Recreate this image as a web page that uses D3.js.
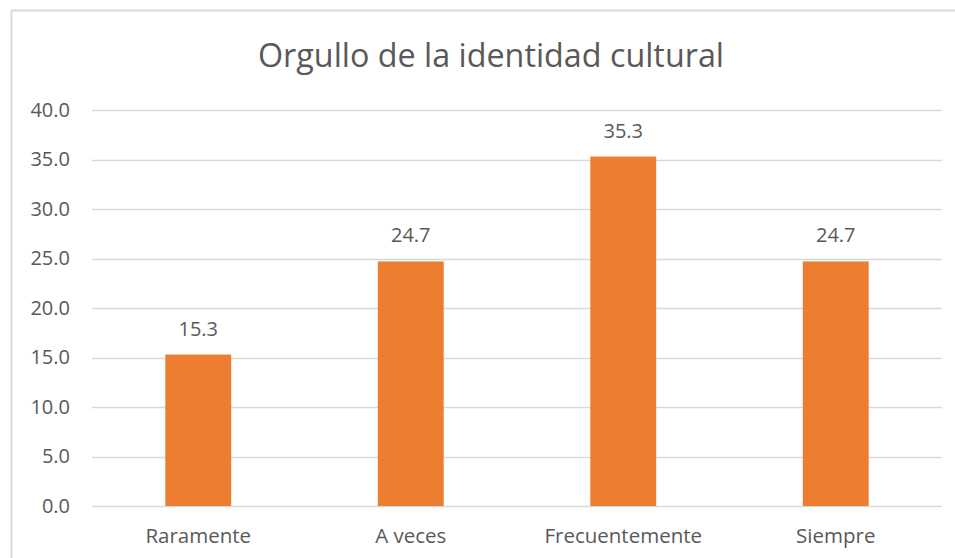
<!DOCTYPE html>
<html>
<head>
<meta charset="utf-8">
<script src="https://cdn.jsdelivr.net/npm/d3@7"></script>
<style>
  body { margin: 0; background: #fff; }
  text { font-family: "Open Sans", sans-serif; fill: #595959; }
</style>
</head>
<body>
<svg id="chart" width="955" height="558"></svg>
<script>
var categories = ['Raramente', 'A veces', 'Frecuentemente', 'Siempre'];
var values = [15.3, 24.7, 35.3, 24.7];
var yTicks = [0, 5, 10, 15, 20, 25, 30, 35, 40];

var margin = {top: 110, right: 13, bottom: 52, left: 92};
var width = 955 - margin.left - margin.right;
var height = 558 - margin.top - margin.bottom;

var svg = d3.select('#chart');

// chart border (runs off the right and bottom of the picture)
svg.append('rect')
    .attr('x', 11.5).attr('y', 10.5)
    .attr('width', 1000).attr('height', 1000)
    .attr('fill', 'none')
    .attr('stroke', '#d9d9d9')
    .attr('stroke-width', 2);

var chart = svg.append('g')
    .attr('transform', 'translate(' + margin.left + ',' + margin.top + ')');

var scaleX = d3.scaleBand().domain(categories).range([0, width]).paddingInner(0.69).paddingOuter(0.345);
var scaleY = d3.scaleLinear().domain([0, 40]).range([height, 0]);

// gridlines
chart.selectAll('.grid')
    .data(yTicks)
    .enter()
    .append('line')
        .attr('x1', 0).attr('x2', width)
        .attr('y1', function(d) { return Math.round(scaleY(d)) + 0.5 })
        .attr('y2', function(d) { return Math.round(scaleY(d)) + 0.5 })
        .attr('stroke', '#d9d9d9')
        .attr('stroke-width', 1.5);

// y axis labels
var yAxis = d3.axisLeft(scaleY).tickValues(yTicks).tickFormat(d3.format('.1f')).tickSize(0).tickPadding(22);
chart.append('g')
    .attr('class', 'y axis')
    .call(yAxis)
    .call(function(g) { g.select('.domain').remove() })
    .selectAll('text')
        .style('font-size', '20px')
        .attr('fill', '#595959');

// x axis labels
var xAxis = d3.axisBottom(scaleX).tickSize(0).tickPadding(22);
chart.append('g')
    .attr('class', 'x axis')
    .attr('transform', 'translate(0,' + height + ')')
    .call(xAxis)
    .call(function(g) { g.select('.domain').remove() })
    .selectAll('text')
        .style('font-size', '20.5px')
        .attr('fill', '#595959');

// bars
chart.selectAll('rect.bar')
    .data(values)
    .enter()
    .append('rect')
        .attr('class', 'bar')
        .attr('x', function(d, i) { return scaleX(categories[i]) })
        .attr('y', function(d) { return scaleY(d) })
        .attr('width', scaleX.bandwidth())
        .attr('height', function(d) { return height - scaleY(d) })
        .attr('fill', '#ed7d31');

// value labels
chart.selectAll('text.label')
    .data(values)
    .enter()
    .append('text')
        .attr('class', 'label')
        .attr('x', function(d, i) { return scaleX(categories[i]) + scaleX.bandwidth() / 2 })
        .attr('y', function(d) { return scaleY(d) - 19 })
        .attr('text-anchor', 'middle')
        .style('font-size', '20px')
        .text(function(d) { return d.toFixed(1) });

// title
svg.append('text')
    .attr('x', 491)
    .attr('y', 67)
    .attr('text-anchor', 'middle')
    .style('font-size', '32.3px')
    .style('font-weight', 400)
    .text('Orgullo de la identidad cultural');
</script>
</body>
</html>
